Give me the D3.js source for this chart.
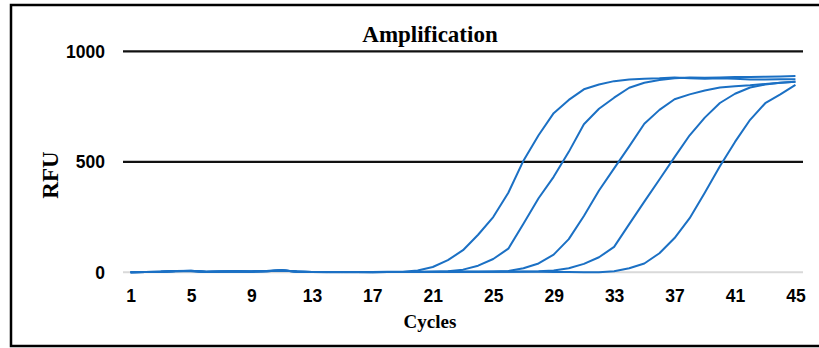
<!DOCTYPE html>
<html>
<head>
<meta charset="utf-8">
<script src="https://cdn.jsdelivr.net/npm/d3@7/dist/d3.min.js"></script>
<style>
  html, body { margin: 0; padding: 0; background: #fff; }
  svg { display: block; }
</style>
</head>
<body>
<svg id="chart" width="819" height="348"></svg>
<script>
// ---- data ----
const cycles = d3.range(1, 46);
const xTickLabels = [1, 5, 9, 13, 17, 21, 25, 29, 33, 37, 41, 45];
const yTickValues = [0, 500, 1000];

const sampleA = [0,1,3,6,6,2,4,4,3,5,8,4,1,1,1,1,1,2,3,
  8,24,55,100,170,250,360,505,620,720,780,828,850,865,872,876,878,882,878,876,878,876,872,872,873,874];
const sampleB = [0,1,2,5,7,1,3,5,4,6,9,3,1,0,1,1,0,1,1,2,3,
  5,12,30,60,107,220,335,432,545,670,740,790,835,858,870,878,882,880,882,884,884,885,886,888];
const sampleC = [0,1,3,5,6,2,4,5,4,5,8,4,1,1,0,1,1,1,1,1,2,2,2,3,4,6,
  18,40,80,150,255,370,470,570,672,735,783,805,823,836,842,846,852,858,862];
const sampleD = [0,1,2,6,6,1,4,4,4,6,9,3,1,1,1,0,1,1,1,1,2,2,2,2,3,3,4,5,
  8,18,38,68,115,218,320,420,521,620,700,766,808,836,850,858,862];
const sampleE = [0,1,3,6,7,2,4,5,3,5,9,4,1,1,1,1,0,1,1,1,1,1,2,2,2,2,2,2,1,1,0,
  0,5,18,40,86,155,245,360,480,590,690,765,805,848];
const seriesList = [sampleA, sampleB, sampleC, sampleD, sampleE];

const titleText = "Amplification";
const xTitle = "Cycles";
const yTitle = "RFU";

// ---- layout ----
const svg = d3.select("#chart");
const plotL = 123, plotR = 803, plotT = 51.3, plotB = 272.3;

svg.append("rect")
  .attr("x", 11).attr("y", 5).attr("width", 840).attr("height", 341)
  .attr("fill", "none").attr("stroke", "#000").attr("stroke-width", 2.5);

const x = d3.scalePoint().domain(cycles).range([plotL, plotR]).padding(0.5);
const y = d3.scaleLinear().domain([0, 1000]).range([plotB, plotT]);

// gridlines
svg.append("g").selectAll("line")
  .data(yTickValues)
  .join("line")
  .attr("x1", plotL).attr("x2", plotR)
  .attr("y1", d => y(d)).attr("y2", d => y(d))
  .attr("stroke", d => d === 0 ? "#d9d9d9" : "#111")
  .attr("stroke-width", d => d === 0 ? 2 : 2.2);

// y axis labels
const yAxis = d3.axisLeft(y).tickValues(yTickValues).tickFormat(d3.format("d")).tickSize(0).tickPadding(0);
const gy = svg.append("g").attr("transform", `translate(105,0)`).call(yAxis);
gy.select(".domain").remove();
gy.selectAll("text")
  .attr("font-family", "'Liberation Sans', Arial, sans-serif")
  .attr("font-weight", "bold").attr("font-size", "17.5px").attr("fill", "#000")
  .attr("dy", "0.35em");

// x axis labels
const xAxis = d3.axisBottom(x).tickValues(xTickLabels).tickSize(0).tickPadding(0);
const gx = svg.append("g").attr("transform", `translate(0,${plotB})`).call(xAxis);
gx.select(".domain").remove();
gx.selectAll("text")
  .attr("font-family", "'Liberation Sans', Arial, sans-serif")
  .attr("font-weight", "bold").attr("font-size", "17.5px").attr("fill", "#000")
  .attr("y", 30).attr("dy", 0);

// lines
const line = d3.line().x((d, i) => x(cycles[i])).y(d => y(d));
svg.append("g").selectAll("path")
  .data(seriesList)
  .join("path")
  .attr("d", d => line(d))
  .attr("fill", "none")
  .attr("stroke", "#1b70c4")
  .attr("stroke-width", 2)
  .attr("stroke-linejoin", "round");

// titles
svg.append("text")
  .attr("x", 430).attr("y", 42)
  .attr("text-anchor", "middle")
  .attr("font-family", "'Liberation Serif', 'Times New Roman', serif")
  .attr("font-weight", "bold").attr("font-size", "23px")
  .text(titleText);

svg.append("text")
  .attr("x", 430).attr("y", 328)
  .attr("text-anchor", "middle")
  .attr("font-family", "'Liberation Serif', 'Times New Roman', serif")
  .attr("font-weight", "bold").attr("font-size", "19px")
  .text(xTitle);

svg.append("text")
  .attr("transform", "translate(58,175) rotate(-90)")
  .attr("text-anchor", "middle")
  .attr("font-family", "'Liberation Serif', 'Times New Roman', serif")
  .attr("font-weight", "bold").attr("font-size", "23px")
  .text(yTitle);
</script>
</body>
</html>
